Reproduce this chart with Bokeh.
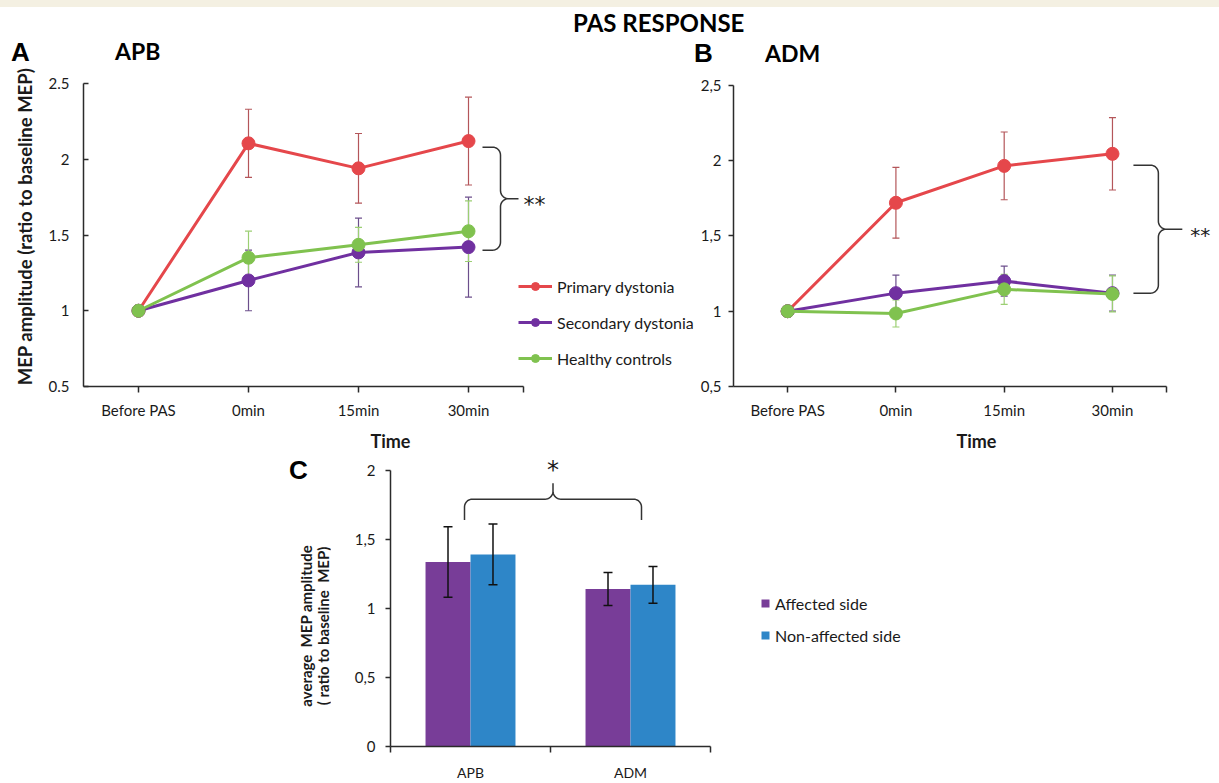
import numpy as np
from bokeh.plotting import figure
from bokeh.models import (Range1d, FixedTicker, Whisker, TeeHead, ColumnDataSource,
                          Label, Legend, LegendItem, Div)
from bokeh.layouts import column, row
from bokeh.transform import dodge
from bokeh.embed import file_html
from bokeh.resources import INLINE

# ---------------- data ----------------
categories = ["Before PAS", "0min", "15min", "30min"]

apb_primary = [1.0, 2.105, 1.94, 2.12]
apb_primary_err = [0.0, 0.225, 0.23, 0.29]
apb_secondary = [1.0, 1.20, 1.385, 1.42]
apb_secondary_err = [0.0, 0.20, 0.227, 0.33]
apb_healthy = [1.0, 1.35, 1.435, 1.525]
apb_healthy_err = [0.0, 0.175, 0.115, 0.20]

adm_primary = [1.0, 1.72, 1.965, 2.045]
adm_primary_err = [0.0, 0.235, 0.225, 0.24]
adm_secondary = [1.0, 1.12, 1.20, 1.12]
adm_secondary_err = [0.0, 0.12, 0.10, 0.12]
adm_healthy = [1.0, 0.985, 1.145, 1.115]
adm_healthy_err = [0.0, 0.09, 0.10, 0.12]

series_names = ["Primary dystonia", "Secondary dystonia", "Healthy controls"]

muscles = ["APB", "ADM"]
affected = [1.335, 1.14]
affected_err = [0.255, 0.12]
nonaffected = [1.39, 1.17]
nonaffected_err = [0.22, 0.133]
bar_names = ["Affected side", "Non-affected side"]

# ---------------- style ----------------
FONT = "Lato"
TXT = "#1a1a1a"
AXC = "#2b2b2b"
RED, PURPLE, GREEN = "#e5474b", "#7030a0", "#80c24f"
RED_E, PURPLE_E, GREEN_E = "#b4565a", "#6c4f8c", "#9ccf73"
BAR_P, BAR_B = "#783d98", "#2e86c8"
HEADER_H = 66


def vbrace(x0, x1, x2, yt, yb, rx, ry, n=10):
    ym = (yt + yb) / 2
    xs, ys = [x0], [yt]
    t = np.linspace(np.pi / 2, 0, n); xs += list(x1 - rx + rx * np.cos(t)); ys += list(yt - ry + ry * np.sin(t))
    t = np.linspace(np.pi, 1.5 * np.pi, n); xs += list(x1 + rx + rx * np.cos(t)); ys += list(ym + ry + ry * np.sin(t))
    xs += [x2, x1 + rx]; ys += [ym, ym]
    t = np.linspace(np.pi / 2, np.pi, n); xs += list(x1 + rx + rx * np.cos(t)); ys += list(ym - ry + ry * np.sin(t))
    t = np.linspace(0, -np.pi / 2, n); xs += list(x1 - rx + rx * np.cos(t)); ys += list(yb + ry + ry * np.sin(t))
    xs += [x0]; ys += [yb]
    return xs, ys


def hbrace(x0, x1, yh, yend, ytip, rx, ry, n=10):
    xm = (x0 + x1) / 2
    xs, ys = [x0], [yend]
    t = np.linspace(np.pi, np.pi / 2, n); xs += list(x0 + rx + rx * np.cos(t)); ys += list(yh - ry + ry * np.sin(t))
    t = np.linspace(-np.pi / 2, 0, n); xs += list(xm - rx + rx * np.cos(t)); ys += list(yh + ry + ry * np.sin(t))
    xs += [xm, xm]; ys += [ytip, yh + ry]
    t = np.linspace(np.pi, 1.5 * np.pi, n); xs += list(xm + rx + rx * np.cos(t)); ys += list(yh + ry + ry * np.sin(t))
    t = np.linspace(np.pi / 2, 0, n); xs += list(x1 - rx + rx * np.cos(t)); ys += list(yh - ry + ry * np.sin(t))
    xs += [x1]; ys += [yend]
    return xs, ys


def base_fig(width, height, left, right, bottom, xr, yr):
    p = figure(width=width, height=height, min_border_left=left, min_border_right=right,
               min_border_top=0, min_border_bottom=bottom, x_range=xr, y_range=yr,
               output_backend="svg", toolbar_location=None)
    p.outline_line_color = None
    p.grid.visible = False
    p.background_fill_color = "white"
    p.border_fill_color = "white"
    for ax in (p.xaxis[0], p.yaxis[0]):
        ax.axis_line_color = AXC
        ax.axis_line_width = 1.5
        ax.major_tick_line_color = AXC
        ax.major_tick_line_width = 1.5
        ax.minor_tick_line_color = AXC
        ax.minor_tick_line_width = 1.5
        ax.major_label_text_font = FONT
        ax.major_label_text_font_size = "15px"
        ax.major_label_text_color = TXT
        ax.axis_label_text_font = FONT
        ax.axis_label_text_font_style = "bold"
        ax.axis_label_text_color = TXT
    return p


def line_panel(width, height, left, bottom, pxx, pxy, vals, errs,
               y_overrides, ticks_in, brace, legend_loc, ylabel):
    fw = width - left
    fh = height - bottom
    p = base_fig(width, height, left, 0, bottom, Range1d(0, fw / pxx), Range1d(0.5, 0.5 + fh / pxy))
    xs = [i + 0.5 for i in range(len(categories))]
    xa, ya = p.xaxis[0], p.yaxis[0]
    xa.ticker = FixedTicker(ticks=xs, minor_ticks=[len(categories)])
    xa.major_label_overrides = {x: c for x, c in zip(xs, categories)}
    xa.bounds = (0, len(categories))
    xa.major_tick_in, xa.major_tick_out = 0, 6
    xa.minor_tick_in, xa.minor_tick_out = 0, 6
    xa.major_label_standoff = 8
    xa.axis_label = "Time"
    xa.axis_label_text_font_size = "18px"
    xa.axis_label_standoff = 8
    ya.ticker = FixedTicker(ticks=[0.5, 1, 1.5, 2, 2.5], minor_ticks=[])
    ya.bounds = (0.5, 2.5)
    if y_overrides:
        ya.major_label_overrides = y_overrides
    if ticks_in:
        ya.major_tick_in, ya.major_tick_out = 5, 0
        ya.major_label_standoff = 14
    else:
        ya.major_tick_in, ya.major_tick_out = 0, 5
        ya.major_label_standoff = 7
    if ylabel:
        ya.axis_label = ylabel
        ya.axis_label_text_font_size = "18.5px"
        ya.axis_label_standoff = 10

    colors = [(RED, RED_E), (PURPLE, PURPLE_E), (GREEN, GREEN_E)]
    items = []
    for name, v, e, (c, ec) in zip(series_names, vals, errs, colors):
        src = ColumnDataSource(dict(x=[x for x, ee in zip(xs, e) if ee > 0],
                                    upper=[vv + ee for vv, ee in zip(v, e) if ee > 0],
                                    lower=[vv - ee for vv, ee in zip(v, e) if ee > 0]))
        p.add_layout(Whisker(source=src, base="x", upper="upper", lower="lower",
                             line_color=ec, line_width=1.2,
                             upper_head=TeeHead(size=7, line_color=ec, line_width=1.2),
                             lower_head=TeeHead(size=7, line_color=ec, line_width=1.2)))
        rl = p.line(xs, v, line_color=c, line_width=3, line_join="round")
        rp = p.scatter(xs, v, size=13, fill_color=c, line_color=c)
        items.append(LegendItem(label=name, renderers=[rl, rp]))

    if legend_loc is not None:
        lg = Legend(items=items, location=legend_loc, padding=0, margin=0,
                    border_line_color=None, background_fill_alpha=0,
                    glyph_width=34, glyph_height=20, label_height=20, spacing=16,
                    label_standoff=5, label_text_font=FONT, label_text_font_size="16px",
                    label_text_color=TXT)
        p.add_layout(lg)

    # significance brace at the last time point
    (g0, g1, g2, yt, yb, stx, sfs) = brace
    last = xs[-1]
    bx, by = vbrace(last + g0 / pxx, last + g1 / pxx, last + g2 / pxx, yt, yb, 8 / pxx, 8 / pxy)
    p.line(bx, by, line_color="#333333", line_width=1.5)
    p.add_layout(Label(x=last + stx / pxx, y=(yt + yb) / 2 - 6 / pxy, text="**",
                       text_baseline="middle", text_align="left", text_font="DejaVu Sans",
                       text_font_size=sfs, text_color=TXT))
    return p


ROW_H = 455 - HEADER_H
pA = line_panel(697, ROW_H, 83, 69, 110.0, 151.5,
                [apb_primary, apb_secondary, apb_healthy],
                [apb_primary_err, apb_secondary_err, apb_healthy_err],
                None, True, (14, 32, 50, 2.08, 1.40, 55, "22px"),
                (435, 18), "MEP amplitude (ratio to baseline MEP)")

pB = line_panel(522, ROW_H, 35, 66, 108.5, 152.0,
                [adm_primary, adm_secondary, adm_healthy],
                [adm_primary_err, adm_secondary_err, adm_healthy_err],
                {0.5: "0,5", 1.5: "1,5", 2.5: "2,5"}, False,
                (21, 46, 70, 1.97, 1.12, 78, "20px"),
                None, None)

# ---------------- panel C ----------------
CW, CH, CL, CR, CB = 889, 328, 60, 219, 30
cpx, cpy = 160.0, 141.5
pC = base_fig(CW, CH, CL, CR, CB, Range1d(0, (CW - CL - CR) / cpx), Range1d(0, (CH - CB) / cpy))
cx = [i + 0.5 for i in range(len(muscles))]
srcC = ColumnDataSource(dict(x=cx, a=affected, b=nonaffected,
                             a_up=[v + e for v, e in zip(affected, affected_err)],
                             a_lo=[v - e for v, e in zip(affected, affected_err)],
                             b_up=[v + e for v, e in zip(nonaffected, nonaffected_err)],
                             b_lo=[v - e for v, e in zip(nonaffected, nonaffected_err)]))
off = 0.1406
bw = 0.281
ra = pC.vbar(x=dodge("x", -off, range=pC.x_range), top="a", width=bw, source=srcC,
             fill_color=BAR_P, line_color=None)
rb = pC.vbar(x=dodge("x", off, range=pC.x_range), top="b", width=bw, source=srcC,
             fill_color=BAR_B, line_color=None)
for xo, up, lo in ((-off, "a_up", "a_lo"), (off, "b_up", "b_lo")):
    pC.add_layout(Whisker(source=srcC, base=dodge("x", xo, range=pC.x_range), upper=up, lower=lo,
                          line_color="#111111", line_width=1.5, level="overlay",
                          upper_head=TeeHead(size=9, line_color="#111111", line_width=1.5),
                          lower_head=TeeHead(size=9, line_color="#111111", line_width=1.5)))
xa, ya = pC.xaxis[0], pC.yaxis[0]
xa.ticker = FixedTicker(ticks=cx, minor_ticks=[0, 1, 2])
xa.major_label_overrides = {x: m for x, m in zip(cx, muscles)}
xa.bounds = (0, len(muscles))
xa.major_tick_line_color = None
xa.major_tick_in, xa.major_tick_out = 0, 0
xa.minor_tick_in, xa.minor_tick_out = 0, 6
xa.major_label_standoff = 11
xa.major_label_text_font_size = "14px"
ya.ticker = FixedTicker(ticks=[0, 0.5, 1, 1.5, 2], minor_ticks=[])
ya.major_label_overrides = {0.5: "0,5", 1.5: "1,5"}
ya.bounds = (0, 2)
ya.major_tick_in, ya.major_tick_out = 0, 5
ya.major_label_standoff = 10

lgC = Legend(items=[LegendItem(label=bar_names[0], renderers=[ra]),
                    LegendItem(label=bar_names[1], renderers=[rb])],
             location=(370, 101), padding=0, margin=0, border_line_color=None,
             background_fill_alpha=0, glyph_width=10, glyph_height=10, label_height=20,
             spacing=12, label_standoff=5, label_text_font=FONT, label_text_font_size="16px",
             label_text_color=TXT)
pC.add_layout(lgC)

# significance brace between muscles
bx, by = hbrace(cx[0] - 6 / cpx, cx[1] + 11 / cpx, 1.79, 1.64, 1.906, 8 / cpx, 8 / cpy)
pC.line(bx, by, line_color="#333333", line_width=1.5)
pC.add_layout(Label(x=(bx[0] + bx[-1]) / 2, y=2.0, text="*", text_align="center",
                    text_baseline="middle", text_font="DejaVu Sans", text_font_size="24px",
                    text_color=TXT))

# ---------------- header texts ----------------
def span(txt, left, top, size, font, lh=None):
    lh = lh or size
    return (f'<div style="position:absolute;left:{left}px;top:{top}px;font-family:{font};'
            f'font-weight:700;font-size:{size}px;line-height:{lh}px;color:#000;'
            f'white-space:nowrap">{txt}</div>')

header_html = (f'<div style="position:relative;width:1219px;height:{HEADER_H}px;">'
               '<div style="position:absolute;left:0;top:0;width:1219px;height:7px;background:#f4f0e2"></div>'
               + span("PAS RESPONSE", 573, 11, 24, "Lato")
               + span("A", 11, 39, 26, "Liberation Sans")
               + span("APB", 115, 39, 23, "Lato", 24)
               + span("B", 694, 40, 26, "Liberation Sans")
               + span("ADM", 765, 41, 23, "Lato", 24)
               + '</div>')
header = Div(text=header_html, width=1219, height=HEADER_H, margin=(0, 0, 0, 0))

c_html = ('<div style="position:relative;width:330px;height:328px;">'
          + span("C", 289, 2, 26, "Liberation Sans")
          + '<div style="position:absolute;left:215px;top:154px;width:200px;height:34px;'
            'transform:rotate(-90deg);transform-origin:50% 50%;text-align:center;'
            'font-family:Lato;font-weight:700;font-size:15px;line-height:17px;color:#1a1a1a;'
            'white-space:nowrap">average&nbsp; MEP amplitude<br>( ratio to baseline&nbsp; MEP)</div>'
          + '</div>')
c_left = Div(text=c_html, width=330, height=328, margin=(0, 0, 0, 0))

layout = column(header, row(pA, pB), row(c_left, pC))
open("out.html", "w").write(file_html(layout, INLINE))
